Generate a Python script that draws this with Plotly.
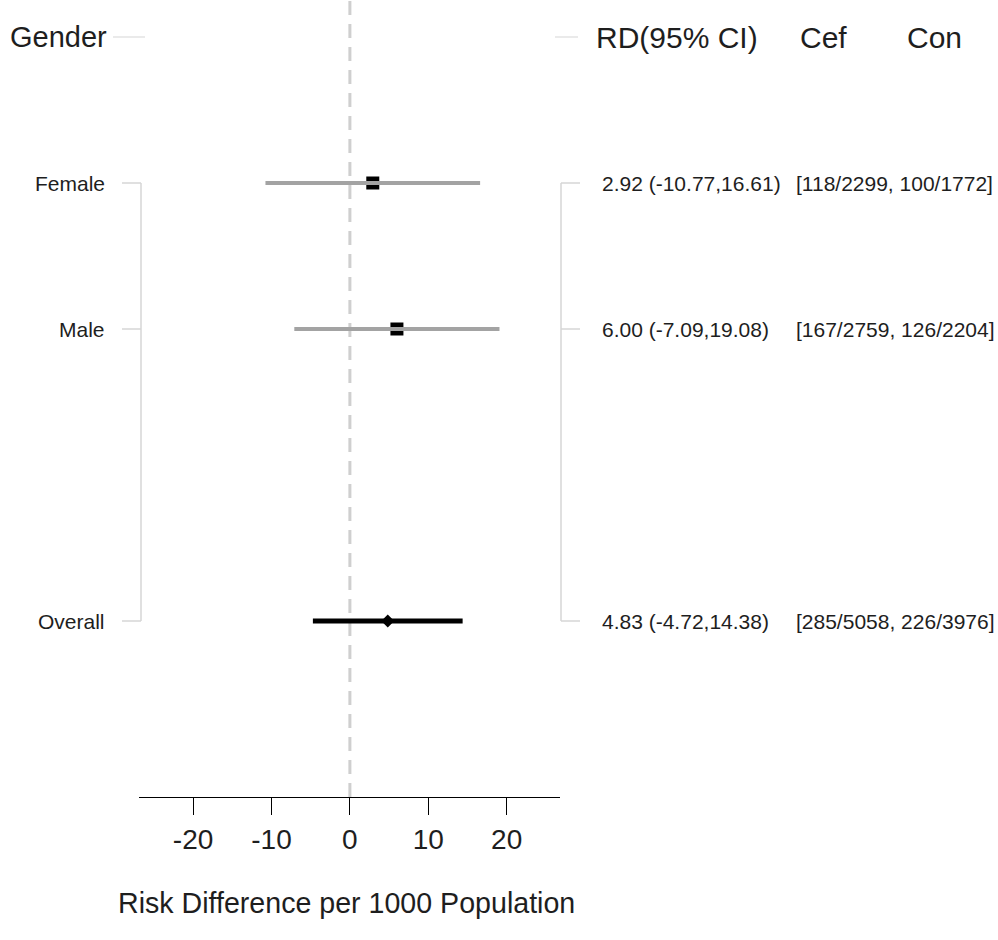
import plotly.graph_objects as go

# ---- data -------------------------------------------------------------
groups = ["Female", "Male", "Overall"]
row_pos = [1, 2, 4]                       # row index of each group (row 0 = header)
rd_est = [2.92, 6.00, 4.83]
rd_lo = [-10.77, -7.09, -4.72]
rd_hi = [16.61, 19.08, 14.38]
cef_events = [118, 167, 285]
cef_total = [2299, 2759, 5058]
con_events = [100, 126, 226]
con_total = [1772, 2204, 3976]
x_ticks = [-20, -10, 0, 10, 20]
headers = ["Gender", "RD(95% CI)", "Cef", "Con"]
x_title = "Risk Difference per 1000 Population"

FONT = "Arial, Liberation Sans, sans-serif"
TXT = "#1e1e1e"
BRACKET = "#d6d6d6"

fig = go.Figure()

# zero reference line (dashed, behind everything)
fig.add_shape(type="line", xref="x", yref="paper", x0=0, x1=0, y0=0, y1=1,
              line=dict(color="#cfcfcf", width=3, dash="14px,9px"), layer="below")

for i, g in enumerate(groups):
    y = row_pos[i]
    overall = (g == "Overall")
    if overall:
        fig.add_trace(go.Scatter(x=[rd_lo[i], rd_hi[i]], y=[y, y], mode="lines",
                                 line=dict(color="black", width=5),
                                 hoverinfo="skip", showlegend=False))
        fig.add_trace(go.Scatter(x=[rd_est[i]], y=[y], mode="markers",
                                 marker=dict(symbol="diamond", size=10, color="black"),
                                 showlegend=False))
    else:
        fig.add_trace(go.Scatter(x=[rd_est[i]], y=[y], mode="markers",
                                 marker=dict(symbol="square", size=13, color="black"),
                                 showlegend=False))
        fig.add_trace(go.Scatter(x=[rd_lo[i], rd_hi[i]], y=[y, y], mode="lines",
                                 line=dict(color="#a3a3a3", width=4),
                                 hoverinfo="skip", showlegend=False))

# ---- text columns ------------------------------------------------------
def px(p):
    # pixel column -> paper x (plot area spans pixels 139..560)
    return (p - 139) / 421.0

annotations = []
annotations.append(dict(text=headers[0], x=px(8), y=0, xanchor="left", size=29))
annotations.append(dict(text=headers[1], x=px(594), y=0, xanchor="left", size=30))
annotations.append(dict(text=headers[2], x=px(798), y=0, xanchor="left", size=30))
annotations.append(dict(text=headers[3], x=px(905), y=0, xanchor="left", size=30))
for a in annotations:
    fs = a.pop("size")
    a.update(xref="paper", yref="y", yanchor="middle", showarrow=False,
             font=dict(family=FONT, size=fs, color=TXT))

for i, g in enumerate(groups):
    y = row_pos[i]
    est_txt = f"{rd_est[i]:.2f} ({rd_lo[i]:.2f},{rd_hi[i]:.2f})"
    cnt_txt = f"[{cef_events[i]}/{cef_total[i]}, {con_events[i]}/{con_total[i]}]"
    for txt, xp, anc in [(g, px(107), "right"), (est_txt, px(600), "left"),
                         (cnt_txt, px(794), "left")]:
        annotations.append(dict(text=txt, x=xp, y=y, xref="paper", yref="y",
                                xanchor=anc, yanchor="middle", showarrow=False,
                                font=dict(family=FONT, size=21, color=TXT)))

annotations.append(dict(text=x_title, x=0.494, y=-0.133, xref="paper", yref="paper",
                        xanchor="center", yanchor="middle", showarrow=False,
                        font=dict(family=FONT, size=28.6, color=TXT)))

# ---- bracket lines on both sides ----------------------------------------
shapes_style = dict(color=BRACKET, width=1.5)
first, last = row_pos[0], row_pos[-1]
fig.add_shape(type="line", xref="paper", yref="y", x0=px(141), x1=px(141),
              y0=first, y1=last, line=shapes_style)
fig.add_shape(type="line", xref="paper", yref="y", x0=px(561), x1=px(561),
              y0=first, y1=last, line=shapes_style)
for y in row_pos:
    fig.add_shape(type="line", xref="paper", yref="y", x0=px(122), x1=px(141),
                  y0=y, y1=y, line=shapes_style)
    fig.add_shape(type="line", xref="paper", yref="y", x0=px(561), x1=px(580),
                  y0=y, y1=y, line=shapes_style)
# short header dashes
fig.add_shape(type="line", xref="paper", yref="y", x0=px(113), x1=px(145),
              y0=0, y1=0, line=dict(color="#e3e3e3", width=1.5))
fig.add_shape(type="line", xref="paper", yref="y", x0=px(555), x1=px(578),
              y0=0, y1=0, line=dict(color="#e3e3e3", width=1.5))

fig.update_layout(
    width=998, height=940,
    margin=dict(l=139, r=438, t=0, b=143),
    paper_bgcolor="white", plot_bgcolor="white",
    annotations=annotations,
    showlegend=False,
    xaxis=dict(range=[-26.9, 26.8], tickvals=x_ticks, ticktext=[str(t) for t in x_ticks],
               showgrid=False, zeroline=False, showline=True, linecolor="black",
               linewidth=1, ticks="outside", ticklen=17, tickwidth=1, tickcolor="black",
               tickfont=dict(family=FONT, size=28, color=TXT), fixedrange=True),
    yaxis=dict(range=[5.2055, -0.2534], visible=False, showgrid=False,
               zeroline=False, fixedrange=True),
)

fig.write_html("out.html")
